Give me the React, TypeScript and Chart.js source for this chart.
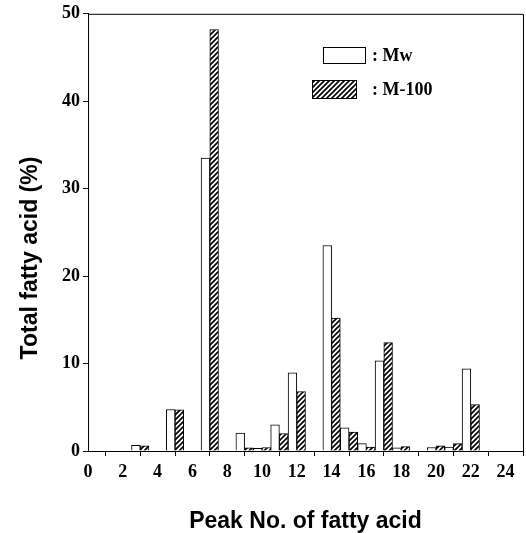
import React, { useEffect, useRef } from "react";
import { Chart, registerables } from "chart.js";

Chart.register(...registerables);

// Peak numbers of fatty acids
const peaks = [3, 5, 7, 9, 10, 11, 12, 14, 15, 16, 17, 18, 20, 21, 22];
// Series values (% of total fatty acid)
const mwValues = [0.65, 4.75, 33.5, 2.05, 0.3, 3.0, 8.95, 23.5, 2.65, 0.85, 10.3, 0.35, 0.4, 0.45, 9.4];
const m100Values = [0.6, 4.7, 48.2, 0.35, 0.4, 2.0, 6.8, 15.2, 2.15, 0.45, 12.4, 0.5, 0.6, 0.85, 5.3];
// Tick labels
const xTickValues = [0, 2, 4, 6, 8, 10, 12, 14, 16, 18, 20, 22, 24];
const yTickValues = [0, 10, 20, 30, 40, 50];
const seriesNames = [": Mw", ": M-100"];
const xTitle = "Peak No. of fatty acid";
const yTitle = "Total fatty acid (%)";

const SERIF = '"Liberation Serif", "Times New Roman", serif';
const SANS = '"Liberation Sans", Arial, sans-serif';

function makeHatch(): CanvasPattern | string {
  const c = document.createElement("canvas");
  const s = 5;
  c.width = s;
  c.height = s;
  const ctx = c.getContext("2d");
  if (!ctx) return "#fff";
  ctx.fillStyle = "#fff";
  ctx.fillRect(0, 0, s, s);
  ctx.strokeStyle = "#000";
  ctx.lineWidth = 1.7;
  ctx.beginPath();
  ctx.moveTo(-1, s + 1);
  ctx.lineTo(s + 1, -1);
  ctx.moveTo(-1, 1);
  ctx.lineTo(1, -1);
  ctx.moveTo(s - 1, s + 1);
  ctx.lineTo(s + 1, s - 1);
  ctx.stroke();
  const p = ctx.createPattern(c, "repeat");
  return p || "#fff";
}

export default function App() {
  const ref = useRef<HTMLCanvasElement | null>(null);

  useEffect(() => {
    document.body.style.margin = "0";
    const canvas = ref.current;
    if (!canvas) return;
    const hatch = makeHatch();

    const framePlugin = {
      id: "framePlugin",
      afterDraw(chart: any) {
        const { ctx, chartArea } = chart;
        ctx.save();
        ctx.strokeStyle = "#000";
        ctx.lineWidth = 1;
        ctx.beginPath();
        ctx.moveTo(chartArea.left, chartArea.top + 0.5);
        ctx.lineTo(chartArea.right + 0.5, chartArea.top + 0.5);
        ctx.lineTo(chartArea.right + 0.5, chartArea.bottom);
        ctx.stroke();

        // legend
        ctx.lineWidth = 1;
        ctx.fillStyle = "#fff";
        ctx.fillRect(323.5, 47.5, 42, 16);
        ctx.strokeRect(323.5, 47.5, 42, 16);
        ctx.fillStyle = hatch as any;
        ctx.fillRect(312.5, 80.5, 44, 18);
        ctx.strokeRect(312.5, 80.5, 44, 18);
        ctx.fillStyle = "#000";
        ctx.font = `bold 18px ${SERIF}`;
        ctx.textAlign = "left";
        ctx.textBaseline = "middle";
        ctx.fillText(seriesNames[0], 372, 56);
        ctx.fillText(seriesNames[1], 372, 90);

        // axis titles
        ctx.font = `bold 23px ${SANS}`;
        ctx.textAlign = "center";
        ctx.textBaseline = "middle";
        ctx.fillText(xTitle, (chartArea.left + chartArea.right) / 2, 522);
        ctx.translate(31, 258);
        ctx.rotate(-Math.PI / 2);
        ctx.fillText(yTitle, 0, 0);
        ctx.restore();
      },
    };

    const chart = new Chart(canvas, {
      type: "bar",
      data: {
        datasets: [
          {
            label: seriesNames[0],
            data: peaks.map((p, i) => ({ x: p, y: mwValues[i] })),
            backgroundColor: "#fff",
            borderColor: "#000",
            borderWidth: 1,
            categoryPercentage: 1,
            barPercentage: 1,
          },
          {
            label: seriesNames[1],
            data: peaks.map((p, i) => ({ x: p, y: m100Values[i] })),
            backgroundColor: hatch as any,
            borderColor: "#000",
            borderWidth: 1,
            categoryPercentage: 1,
            barPercentage: 1,
          },
        ],
      },
      options: {
        animation: false,
        responsive: false,
        maintainAspectRatio: false,
        layout: { padding: { left: 0, right: 3, top: 12, bottom: 0 } },
        plugins: {
          legend: { display: false },
          tooltip: { enabled: false },
          title: { display: false },
        },
        scales: {
          x: {
            type: "linear",
            min: 0,
            max: 25,
            offset: false,
            afterBuildTicks: (scale: any) => {
              scale.ticks = xTickValues.map((v) => ({ value: v }));
            },
            afterFit: (scale: any) => {
              scale.height = 82;
            },
            ticks: {
              color: "#000",
              font: { family: SERIF, size: 18, weight: "bold" },
              padding: 6,
              maxRotation: 0,
              autoSkip: false,
              includeBounds: false,
            },
            grid: {
              display: true,
              drawOnChartArea: false,
              drawTicks: true,
              tickLength: 5,
              color: "#000",
            },
            border: { display: true, color: "#000", width: 1 },
          },
          y: {
            type: "linear",
            min: 0,
            max: 50,
            afterBuildTicks: (scale: any) => {
              scale.ticks = yTickValues.map((v) => ({ value: v }));
            },
            afterFit: (scale: any) => {
              scale.width = 88;
            },
            ticks: {
              color: "#000",
              font: { family: SERIF, size: 18, weight: "bold" },
              padding: 3,
            },
            grid: {
              display: true,
              drawOnChartArea: false,
              drawTicks: true,
              tickLength: 5,
              color: "#000",
            },
            border: { display: true, color: "#000", width: 1 },
          },
        },
      },
      plugins: [framePlugin],
    } as any);

    return () => {
      chart.destroy();
    };
  }, []);

  return (
    <div style={{ width: 526, height: 533, position: "relative" }}>
      <canvas ref={ref} width={526} height={533} style={{ display: "block" }} />
    </div>
  );
}
